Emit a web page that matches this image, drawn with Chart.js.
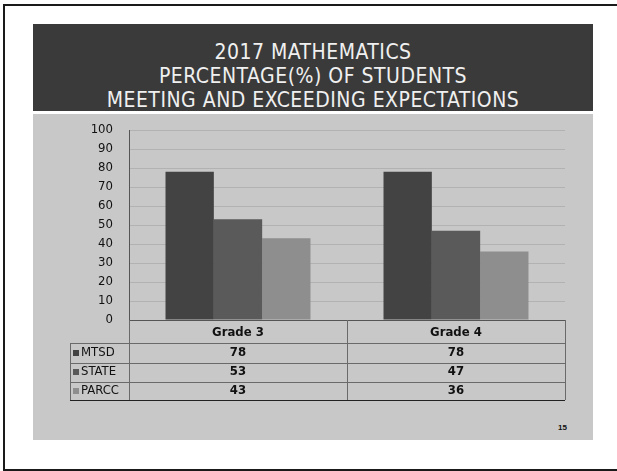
<!DOCTYPE html>
<html>
<head>
<meta charset="utf-8">
<script src="https://cdn.jsdelivr.net/npm/chart.js@4/dist/chart.umd.min.js"></script>
<style>
body { margin: 0; background: #fff; }
#page { position: relative; width: 617px; height: 471px; overflow: hidden; background: #fff; }
#frame { position: absolute; left: 3px; top: 4px; width: 660px; height: 463px; border: 2px solid #1a1a1a; border-right: none; }
#band { position: absolute; left: 33px; top: 24px; width: 560px; height: 87px; background: #3a3a3a; color: #f0f0f0;
  font: 21px 'Liberation Sans Narrow', 'DejaVu Sans Condensed', sans-serif; text-align: center; line-height: 24px; }
#band div { letter-spacing: 0.5px; }
#panel { position: absolute; left: 33px; top: 114px; width: 560px; height: 326px; background: #c8c8c8; }
#pageno { position: absolute; left: 558px; top: 423px; font: bold 8px 'Liberation Sans', sans-serif; color: #111; }
canvas { position: absolute; left: 0; top: 0; }
</style>
</head>
<body>
<div id="page">
  <div id="frame"></div>
  <div id="band">
    <div style="margin-top:16px">2017 MATHEMATICS</div>
    <div>PERCENTAGE(%) OF STUDENTS</div>
    <div>MEETING AND EXCEEDING EXPECTATIONS</div>
  </div>
  <div id="panel"></div>
  <div id="pageno">15</div>
  <canvas id="myChart" width="617" height="471"></canvas>
</div>
<script>
// chart values
var categories = ["Grade 3", "Grade 4"];
var seriesNames = ["MTSD", "STATE", "PARCC"];
var mtsd = [78, 78];
var state = [53, 47];
var parcc = [43, 36];
var seriesColors = ["#434343", "#5a5a5a", "#8e8e8e"];

var tableFont = "'Liberation Sans Narrow', 'DejaVu Sans Condensed', sans-serif";

// data table under the plot, the way the slide shows it
var dataTable = {
    id: 'dataTable',
    afterDraw: function (chart) {
        var ctx = chart.ctx;
        var x = chart.scales.x;
        var area = chart.chartArea;
        var top = area.bottom;
        var left = 70;
        var rowY = [top + 33, top + 52, top + 71];
        ctx.save();
        // lines
        ctx.strokeStyle = '#6a6a6a';
        ctx.lineWidth = 1;
        ctx.beginPath();
        [top + 23, top + 42.5, top + 61.5].forEach(function (y) {
            ctx.moveTo(left, Math.round(y) + 0.5);
            ctx.lineTo(area.right, Math.round(y) + 0.5);
        });
        ctx.moveTo(left + 0.5, top + 23);
        ctx.lineTo(left + 0.5, top + 80);
        ctx.moveTo(area.right + 0.5, top);
        ctx.lineTo(area.right + 0.5, top + 80);
        ctx.moveTo(area.left + 0.5, top);
        ctx.lineTo(area.left + 0.5, top + 80);
        var mid = (x.getPixelForValue(0) + x.getPixelForValue(1)) / 2;
        ctx.moveTo(Math.round(mid) + 0.5, top);
        ctx.lineTo(Math.round(mid) + 0.5, top + 80);
        ctx.stroke();
        ctx.strokeStyle = '#222';
        ctx.beginPath();
        ctx.moveTo(left, top + 80.5);
        ctx.lineTo(area.right, top + 80.5);
        ctx.stroke();

        ctx.fillStyle = '#111';
        ctx.textBaseline = 'middle';
        ctx.textAlign = 'center';
        ctx.font = 'bold 13px ' + tableFont;
        categories.forEach(function (c, i) {
            ctx.fillText(c, x.getPixelForValue(i), top + 13);
        });
        chart.data.datasets.forEach(function (ds, r) {
            var y = rowY[r];
            ctx.fillStyle = ds.backgroundColor;
            ctx.fillRect(left + 3, y - 3, 6, 6);
            ctx.fillStyle = '#111';
            ctx.textAlign = 'left';
            ctx.font = '13px ' + tableFont;
            ctx.fillText(ds.label, left + 11, y);
            ctx.textAlign = 'center';
            ctx.font = 'bold 13px ' + tableFont;
            ds.data.forEach(function (v, i) {
                ctx.fillText(String(v), x.getPixelForValue(i), y);
            });
        });
        ctx.restore();
    }
};

var ctx = document.getElementById('myChart').getContext('2d');
var myChart = new Chart(ctx, {
    type: 'bar',
    data: {
        labels: categories,
        datasets: [{
                label: seriesNames[0],
                data: mtsd,
                backgroundColor: seriesColors[0]
            }, {
                label: seriesNames[1],
                data: state,
                backgroundColor: seriesColors[1]
            }, {
                label: seriesNames[2],
                data: parcc,
                backgroundColor: seriesColors[2]
            }]
    },
    options: {
        responsive: false,
        animation: false,
        layout: { padding: { top: 130, right: 52, left: 0, bottom: 0 } },
        datasets: { bar: { barPercentage: 1, categoryPercentage: 0.665 } },
        plugins: {
            legend: { display: false },
            tooltip: { enabled: false }
        },
        scales: {
            x: {
                ticks: { display: false },
                grid: { display: false },
                border: { color: '#555' },
                afterFit: function (s) { s.height = 151; }
            },
            y: {
                min: 0,
                max: 100,
                ticks: {
                    stepSize: 10,
                    padding: 16,
                    color: '#111',
                    font: { family: tableFont, size: 13 }
                },
                grid: { color: '#b2b2b2', drawTicks: false },
                border: { color: '#555' },
                afterFit: function (s) { s.width = 129; }
            }
        }
    },
    plugins: [dataTable]
});
</script>
</body>
</html>
